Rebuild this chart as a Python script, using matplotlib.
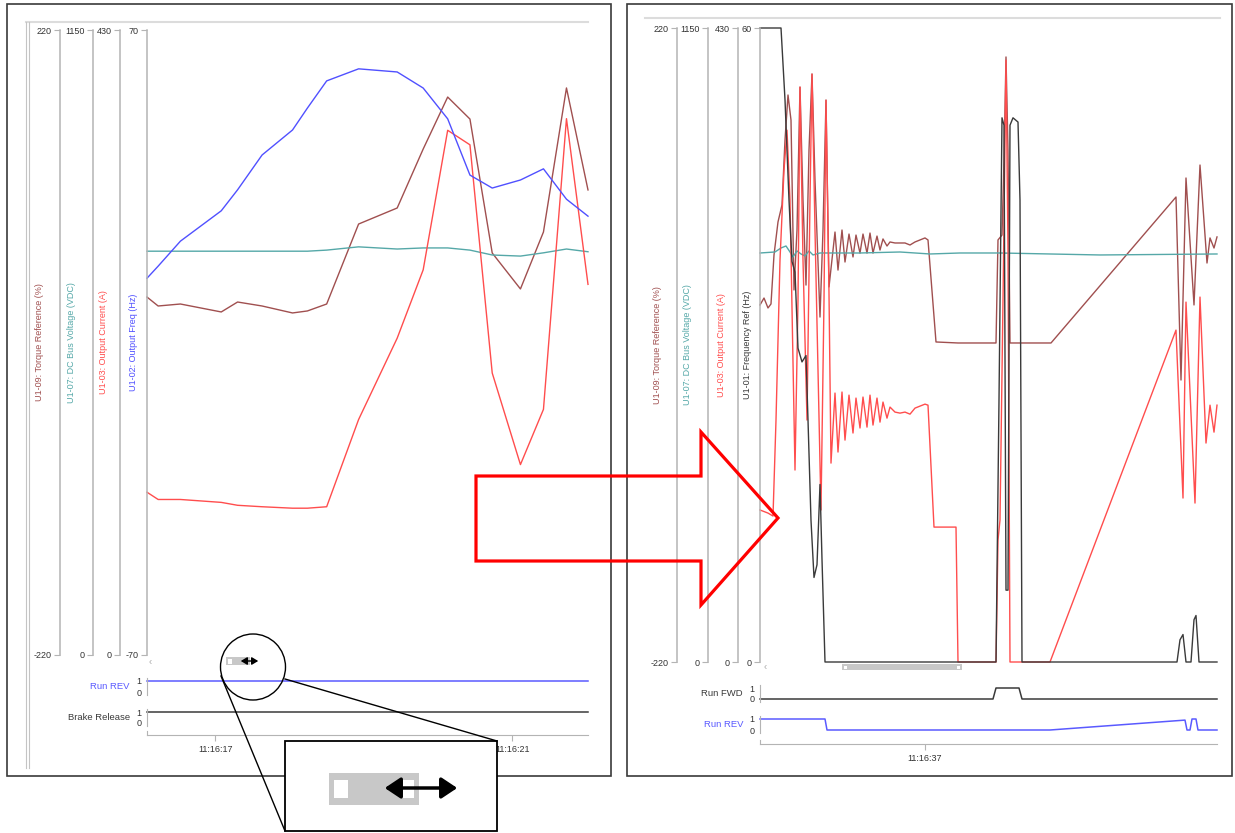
import matplotlib
matplotlib.use("Agg")
import matplotlib.pyplot as plt
from matplotlib.patches import Rectangle, Ellipse, Polygon, FancyArrowPatch
from matplotlib.ticker import MultipleLocator, FuncFormatter

W, H = 1235, 833
plt.rcParams['font.family'] = ['Liberation Sans', 'DejaVu Sans']
plt.rcParams['font.size'] = 6.5

# colours of the trend pens
TORQUE = '#a04f4f'
DCBUS = '#55a8a8'
CURRENT = '#ff4d4d'
FREQ = '#5050ff'
FREQREF = '#3a3a3a'
REV = '#5a5aff'
AXIS = '#b4b4b4'
TXT = '#333333'

# ---- left trend (zoomed in), time in s after 11:16:17
left_t = [-0.92, -0.77, -0.47, 0.08, 0.30, 0.63, 1.04, 1.24, 1.50, 1.93,
          2.45, 2.80, 3.13, 3.43, 3.73, 4.11, 4.42, 4.73, 5.02]
left_torque = [32, 25.7, 27.1, 21.5, 28.5, 25.7, 20.8, 22.2, 27.1, 83.4,
               94.7, 136.2, 172.8, 157.3, 63, 37.7, 77.8, 179.2, 107.4]
left_dcbus = [743, 743, 743, 743, 743, 743, 743, 743, 745, 751,
              747, 749, 749, 745, 736, 734, 740, 747, 742]
left_current = [112, 107, 107, 105, 103, 102, 101, 101, 102, 162,
                218, 265, 361, 351, 194, 131, 169, 369, 255]
left_freq = [14.4, 17.1, 22.7, 29.5, 34.2, 42.0, 47.6, 52.5, 58.6, 61.3,
             60.6, 57.0, 50.1, 37.5, 34.6, 36.4, 38.9, 32.1, 28.3]
left_dig_t = [-0.92, 5.02]
left_run_rev = [1, 1]
left_brake = [1, 1]

# ---- right trend, time in s after 11:16:37
right_torque_t = [-1.65, -1.61, -1.57, -1.54, -1.51, -1.47, -1.43, -1.40, -1.37, -1.34,
                  -1.31, -1.28, -1.25, -1.22, -1.19, -1.16, -1.13, -1.10, -1.05, -1.02,
                  -0.99, -0.96, -0.90, -0.87, -0.83, -0.80, -0.76, -0.72, -0.69, -0.65,
                  -0.62, -0.58, -0.55, -0.52, -0.48, -0.45, -0.42, -0.38, -0.35, -0.30,
                  -0.20, -0.15, -0.10, 0.00, 0.03, 0.11, 0.33, 0.71, 0.73, 0.77,
                  0.79, 0.81, 0.83, 0.85, 1.26, 2.51, 2.56, 2.61, 2.69, 2.75,
                  2.82, 2.85, 2.89, 2.92]
right_torque = [27.8, 32.6, 25.7, 28.5, 62.5, 85.4, 97.2, 142.3, 173.5, 156.1,
                38.2, 79.8, 179, 100.6, 41.6, 135.3, 188.1, 114.5, 19.4, 79.8,
                170, 40.3, 78.4, 52.0, 79.8, 57.6, 77.0, 61.1, 76.3, 63.8,
                77.0, 63.8, 77.7, 63.8, 75.6, 65.9, 73.6, 68.7, 71.5, 70.8,
                70.8, 69.4, 71.5, 74.3, 72.9, 2.1, 1.4, 1.4, 72.9, 76.3,
                128.4, 199.9, 135.3, 1.4, 1.4, 102.7, -24.3, 115.9, 27.8, 124.9,
                56.9, 74.3, 67.3, 75]
right_dcbus_t = [-1.65, -1.50, -1.44, -1.39, -1.35, -1.32, -1.28, -1.24, -1.20, -1.16,
                 -1.12, -1.05, -0.65, -0.25, 0.05, 0.35, 0.75, 1.25, 1.75, 2.92]
right_dcbus = [741.9, 743.7, 751, 754.6, 743.7, 734.7, 745.6, 740.1, 736.5, 745.6,
               738.3, 741.9, 741.9, 743.7, 740.1, 741.9, 741.9, 740.1, 738.3, 740.1]
right_current_t = [-1.65, -1.57, -1.52, -1.49, -1.45, -1.41, -1.38, -1.35, -1.30, -1.27,
                   -1.25, -1.22, -1.18, -1.15, -1.13, -1.10, -1.04, -1.01, -0.99, -0.96,
                   -0.94, -0.90, -0.87, -0.83, -0.80, -0.76, -0.72, -0.69, -0.65, -0.62,
                   -0.58, -0.55, -0.52, -0.48, -0.45, -0.42, -0.38, -0.35, -0.30, -0.25,
                   -0.20, -0.15, -0.10, 0.00, 0.03, 0.09, 0.31, 0.33, 0.71, 0.73,
                   0.75, 0.78, 0.81, 0.83, 0.85, 1.25, 2.51, 2.58, 2.61, 2.70,
                   2.75, 2.81, 2.85, 2.89, 2.92]
right_current = [103.1, 101, 99, 164.1, 272.6, 333.6, 360.7, 313.2, 130.2, 245.4,
                 389.9, 272.6, 164.1, 313.2, 398.7, 292.9, 103.1, 245.4, 381, 250,
                 134.9, 182.4, 142.4, 183.1, 150.5, 181, 155.3, 179, 158.7, 179.7,
                 159.3, 181, 160.7, 179, 162.7, 176.3, 165.4, 172.9, 169.5, 168.8,
                 169.5, 168.1, 172.2, 174.9, 174.2, 91.5, 91.5, 0, 0, 82.7,
                 96.3, 245.4, 408.2, 279.3, 0, 0, 225.1, 111.2, 244.1, 107.8,
                 247.5, 148.5, 174.2, 155.9, 174.2]
right_freqref_t = [-1.65, -1.44, -1.40, -1.36, -1.33, -1.30, -1.27, -1.23, -1.19, -1.17,
                   -1.14, -1.11, -1.08, -1.05, -1.03, -1.00, 0.71, 0.74, 0.77, 0.79,
                   0.81, 0.83, 0.85, 0.88, 0.93, 0.95, 0.97, 2.52, 2.55, 2.58,
                   2.61, 2.66, 2.69, 2.71, 2.74, 2.92]
right_freqref = [60, 60, 53.2, 43.7, 37.9, 36.9, 29.7, 28.4, 29.0, 22.9,
                 13.4, 8.0, 9.2, 16.8, 9.7, 0, 0, 24.8, 51.5, 50.8,
                 6.8, 6.8, 50.8, 51.5, 51.1, 43.7, 0, 0, 2.1, 2.6,
                 0, 0, 4.0, 4.4, 0, 0]
right_fwd_t = [-1.65, 0.68, 0.71, 0.94, 0.97, 2.92]
right_run_fwd = [0, 0, 1, 1, 0, 0]
right_rev_t = [-1.65, -1.00, -0.98, 1.25, 2.60, 2.62, 2.65, 2.67, 2.71, 2.73, 2.92]
right_run_rev = [1, 1, 0, 0, 0.9, 0, 0, 1, 1, 0, 0]


def px_rect(x0, y0, x1, y1):
    # pixel box (y down) -> figure fraction
    return [x0 / W, 1 - y1 / H, (x1 - x0) / W, (y1 - y0) / H]


def clock(base):
    def f(v, pos):
        s = int(round(base + v))
        return "%d:%02d:%02d" % (s // 3600, s // 60 % 60, s % 60)
    return FuncFormatter(f)


def analog(fig, ov, box, xlim, pens):
    x0, y0, x1, y1 = box
    for t, vals, lo, hi, color, name, spine_x, label_x in pens:
        ax = fig.add_axes(px_rect(x0, y0, x1, y1))
        ax.patch.set_visible(False)
        for s in ('top', 'right', 'bottom'):
            ax.spines[s].set_visible(False)
        ax.spines['left'].set_position(('axes', (spine_x - x0) / (x1 - x0)))
        ax.spines['left'].set_color(AXIS)
        ax.spines['left'].set_linewidth(1.1)
        ax.set_xlim(xlim)
        ax.set_ylim(lo, hi)
        ax.set_xticks([])
        ax.set_yticks([lo, hi])
        ax.set_yticklabels([str(lo), str(hi)])
        ax.tick_params(axis='y', length=4, width=0.8, color=AXIS, pad=2,
                       labelsize=6.5, labelcolor=TXT)
        ax.plot(t, vals, color=color, lw=1.0, clip_on=False)
        ov.text(label_x, (y0 + y1) / 2, name, rotation=90, ha='center',
                va='center', color=color, fontsize=6.5)


def digital(fig, t, vals, name, color, x0, x1, y_one, y_zero, xlim):
    pad = 0.3
    span = y_zero - y_one
    ax = fig.add_axes(px_rect(x0, y_one - pad * span, x1, y_zero + pad * span))
    ax.patch.set_visible(False)
    for s in ('top', 'right', 'bottom'):
        ax.spines[s].set_visible(False)
    ax.spines['left'].set_color(AXIS)
    ax.set_xlim(xlim)
    ax.set_ylim(-pad, 1 + pad)
    ax.set_xticks([])
    ax.set_yticks([0, 1])
    ax.tick_params(axis='y', length=0, pad=4, labelsize=6.5, labelcolor=TXT)
    ax.plot(t, vals, color=color, lw=1.1, clip_on=False)
    ax.text(-17 / (x1 - x0), 0.5, name, transform=ax.transAxes, ha='right',
            va='center', color=color, fontsize=6.8)


def time_axis(fig, x0, x1, y, xlim, base):
    ax = fig.add_axes(px_rect(x0, y - 4, x1, y))
    ax.patch.set_visible(False)
    for s in ('top', 'right'):
        ax.spines[s].set_visible(False)
    ax.spines['bottom'].set_color(AXIS)
    ax.spines['left'].set_color(AXIS)
    ax.set_xlim(xlim)
    ax.set_yticks([])
    ax.xaxis.set_major_locator(MultipleLocator(4))
    ax.xaxis.set_major_formatter(clock(base))
    ax.tick_params(axis='x', length=4, color=AXIS, pad=3,
                   labelsize=6.5, labelcolor=TXT)


fig = plt.figure(figsize=(W / 100, H / 100), dpi=100)
ov = fig.add_axes([0, 0, 1, 1], zorder=10)
ov.set_xlim(0, W)
ov.set_ylim(H, 0)
ov.axis('off')
ov.patch.set_visible(False)

# left trend
lx = (left_t[0], left_t[-1])
analog(fig, ov, (147, 30, 588, 655), lx, [
    (left_t, left_torque, -220, 220, TORQUE, 'U1-09: Torque Reference (%)', 60, 40),
    (left_t, left_dcbus, 0, 1150, DCBUS, 'U1-07: DC Bus Voltage (VDC)', 93, 71),
    (left_t, left_current, 0, 430, CURRENT, 'U1-03: Output Current (A)', 120, 104),
    (left_t, left_freq, -70, 70, FREQ, 'U1-02: Output Freq (Hz)', 147, 133),
])
digital(fig, left_dig_t, left_run_rev, 'Run REV', REV, 147, 588, 681, 692, lx)
digital(fig, left_dig_t, left_brake, 'Brake Release', FREQREF, 147, 588, 712, 723, lx)
time_axis(fig, 147, 588, 735, lx, 11 * 3600 + 16 * 60 + 17)

# right trend
rx = (-1.65, 2.92)
analog(fig, ov, (760, 28, 1217, 662), rx, [
    (right_torque_t, right_torque, -220, 220, TORQUE, 'U1-09: Torque Reference (%)', 677, 657),
    (right_dcbus_t, right_dcbus, 0, 1150, DCBUS, 'U1-07: DC Bus Voltage (VDC)', 708, 687),
    (right_current_t, right_current, 0, 430, CURRENT, 'U1-03: Output Current (A)', 738, 721),
    (right_freqref_t, right_freqref, 0, 60, FREQREF, 'U1-01: Frequency Ref (Hz)', 760, 747),
])
digital(fig, right_fwd_t, right_run_fwd, 'Run FWD', FREQREF, 760, 1217, 688, 699, rx)
digital(fig, right_rev_t, right_run_rev, 'Run REV', REV, 760, 1217, 719, 730, rx)
time_axis(fig, 760, 1217, 744, rx, 11 * 3600 + 16 * 60 + 37)

# panel frames and chrome
ov.add_patch(Rectangle((7, 4), 604, 772, fill=False, ec='#3a3a3a', lw=1.2))
ov.add_patch(Rectangle((627, 4), 605, 772, fill=False, ec='#3a3a3a', lw=1.2))
ov.plot([26, 588], [22, 22], color='#dcdcdc', lw=1.5)
ov.plot([645, 1220], [18, 18], color='#dcdcdc', lw=1.5)
ov.plot([26, 26], [22, 768], color='#c4c4c4', lw=0.8)
ov.plot([28.5, 28.5], [22, 768], color='#c4c4c4', lw=0.8)
ov.text(150, 662, '‹', color='#aaaaaa', fontsize=7, ha='center', va='center')
ov.text(765, 667, '‹', color='#aaaaaa', fontsize=7, ha='center', va='center')

# scrollbar right
ov.add_patch(Rectangle((842, 664), 120, 6, fc='#c8c8c8', ec='none'))
ov.add_patch(Rectangle((844, 665.5), 3, 3, fc='white', ec='none'))
ov.add_patch(Rectangle((957, 665.5), 3, 3, fc='white', ec='none'))

# mini scrollbar left, circled
ov.add_patch(Rectangle((226, 657), 24, 8, fc='#c8c8c8', ec='none'))
ov.add_patch(Rectangle((228, 658.5), 4, 5, fc='white', ec='none'))
ov.add_patch(FancyArrowPatch((238, 661), (261, 661), arrowstyle='<|-|>,head_length=2.5,head_width=1.5',
                             mutation_scale=1.5, color='black', lw=1))
ov.add_patch(Ellipse((253, 667), 65, 66, fill=False, ec='black', lw=1))
ov.plot([221, 285], [676, 831], color='black', lw=1)
ov.plot([285, 497], [679, 741], color='black', lw=1)

# magnified inset
ov.add_patch(Rectangle((285, 741), 212, 90, fc='white', ec='black', lw=1.3))
ov.add_patch(Rectangle((329, 773), 90, 32, fc='#c8c8c8', ec='none'))
ov.add_patch(Rectangle((334, 780), 14, 18, fc='white', ec='none'))
ov.add_patch(Rectangle((401, 780), 13, 18, fc='white', ec='none'))
ov.add_patch(FancyArrowPatch((382, 788), (460, 788), arrowstyle='<|-|>,head_length=6,head_width=4',
                             mutation_scale=1.6, color='black', lw=2.5))

# big red arrow
ov.add_patch(Polygon([(476, 476), (701, 476), (701, 432), (778, 518), (701, 605),
                      (701, 561), (476, 561)], closed=True, fill=False,
                     ec='#ff0000', lw=2.3, joinstyle='miter'))

fig.savefig('out.png', dpi=100)
